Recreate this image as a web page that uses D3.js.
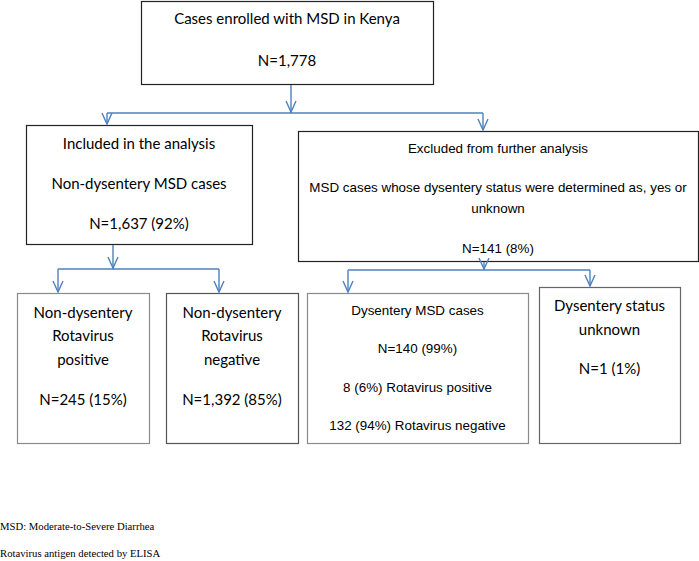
<!DOCTYPE html>
<html>
<head>
<meta charset="utf-8">
<script src="https://cdn.jsdelivr.net/npm/d3@7"></script>
<style>
  html, body { margin: 0; padding: 0; background: #fff; }
  svg { display: block; }
</style>
</head>
<body>
<svg id="chart" width="699" height="561"></svg>
<script>
// ---- data ----
const boxIds = ["enrolled", "included", "excluded", "rvPos", "rvNeg", "dysentery", "unknown"];
const boxLines = [
  ["Cases enrolled with MSD in Kenya", "N=1,778"],
  ["Included in the analysis", "Non-dysentery MSD cases", "N=1,637 (92%)"],
  ["Excluded from further analysis", "MSD cases whose dysentery status were determined as, yes or", "unknown", "N=141 (8%)"],
  ["Non-dysentery", "Rotavirus", "positive", "N=245 (15%)"],
  ["Non-dysentery", "Rotavirus", "negative", "N=1,392 (85%)"],
  ["Dysentery MSD cases", "N=140 (99%)", "8 (6%) Rotavirus positive", "132 (94%) Rotavirus negative"],
  ["Dysentery status", "unknown", "N=1 (1%)"]
];
const links = [["enrolled", ["included", "excluded"]], ["included", ["rvPos", "rvNeg"]], ["excluded", ["dysentery", "unknown"]]];
const footnotes = ["MSD: Moderate-to-Severe Diarrhea", "Rotavirus antigen detected by ELISA"];

// ---- layout ----
const geom = {
  enrolled:  {x0: 141, x1: 433, y0: 1,   y1: 84,  lineY: [18, 60], font: "Lato", size: 15, stroke: "#222"},
  included:  {x0: 26,  x1: 252, y0: 125, y1: 244, lineY: [143, 183, 223], font: "Lato", size: 15, stroke: "#222"},
  excluded:  {x0: 298, x1: 698, y0: 131, y1: 261, lineY: [148, 187, 208, 248], font: "Liberation Sans", size: 13.4, stroke: "#222"},
  rvPos:     {x0: 17,  x1: 149, y0: 293, y1: 443, lineY: [312, 335, 359, 399], font: "Lato", size: 15, stroke: "#8a8a8a"},
  rvNeg:     {x0: 166, x1: 298, y0: 293, y1: 443, lineY: [312, 335, 359, 399], font: "Lato", size: 15, stroke: "#555"},
  dysentery: {x0: 307, x1: 528, y0: 293, y1: 443, lineY: [310, 348, 387, 425], font: "Liberation Sans", size: 13.4, stroke: "#8a8a8a"},
  unknown:   {x0: 539, x1: 680, y0: 287, y1: 443, lineY: [305, 329, 368], font: "Lato", size: 15, stroke: "#666"}
};
const connectorY = {enrolled: 113, included: 269, excluded: 270};
const arrowX = {included: 107, excluded: 483, rvPos: 58, rvNeg: 219, dysentery: 348, unknown: 590};
const sourceX = {enrolled: 291, included: 113, excluded: 484};

const svg = d3.select("#chart");
const blue = "#4f81bd";

// boxes
const nodes = boxIds.map((id, i) => ({id, lines: boxLines[i], g: geom[id]}));
const gBox = svg.selectAll("g.box").data(nodes).join("g").attr("class", "box");
gBox.append("rect")
  .attr("x", d => d.g.x0 + 0.5).attr("y", d => d.g.y0 + 0.5)
  .attr("width", d => d.g.x1 - d.g.x0).attr("height", d => d.g.y1 - d.g.y0)
  .attr("fill", "#fff").attr("stroke", d => d.g.stroke).attr("stroke-width", 1.2);
gBox.each(function(d) {
  d3.select(this).selectAll("text").data(d.lines.map((t, j) => ({t, y: d.g.lineY[j], d})))
    .join("text")
    .attr("x", e => (e.d.g.x0 + e.d.g.x1) / 2)
    .attr("y", e => e.y)
    .attr("text-anchor", "middle")
    .attr("dominant-baseline", "central")
    .attr("font-family", e => e.d.g.font)
    .attr("font-size", e => e.d.g.size)
    .attr("fill", "#000")
    .text(e => e.t);
});

// connectors
const arrowHead = (x, y) => `M${x - 5},${y - 11}L${x},${y}L${x + 5},${y - 11}`;
links.forEach(([src, targets]) => {
  const s = geom[src];
  const cy = connectorY[src];
  const sx = sourceX[src];
  const xs = targets.map(t => arrowX[t]);
  const g = svg.append("g").attr("fill", "none").attr("stroke", blue).attr("stroke-width", 1.4);
  g.append("line").attr("x1", sx).attr("x2", sx).attr("y1", s.y1 + 1).attr("y2", cy);
  g.append("path").attr("d", arrowHead(sx, cy - 1));
  g.append("line").attr("x1", d3.min(xs)).attr("x2", d3.max(xs)).attr("y1", cy).attr("y2", cy);
  targets.forEach(t => {
    const tx = arrowX[t], ty = geom[t].y0 - 1;
    g.append("line").attr("x1", tx).attr("x2", tx).attr("y1", cy).attr("y2", ty);
    g.append("path").attr("d", arrowHead(tx, ty));
  });
});

// footnotes
svg.selectAll("text.foot").data(footnotes).join("text").attr("class", "foot")
  .attr("x", 0).attr("y", (d, i) => 526 + i * 27)
  .attr("dominant-baseline", "central")
  .attr("font-family", "Liberation Serif").attr("font-size", 10.7).attr("fill", "#000")
  .text(d => d);
</script>
</body>
</html>
